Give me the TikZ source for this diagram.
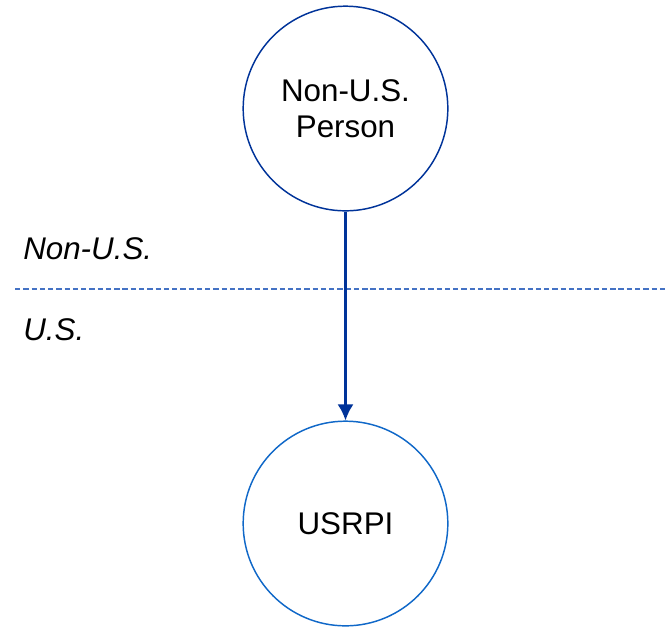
\documentclass[tikz,border=0pt]{standalone}
\usepackage{fontspec}
\setmainfont{Liberation Sans}
\usepackage{tikz}
\usetikzlibrary{arrows.meta}
\usetikzlibrary{shapes}
\definecolor{darkblue}{RGB}{0,51,153}
\definecolor{midblue}{RGB}{16,104,200}
\definecolor{lineblue}{RGB}{68,114,196}
\tikzset{>=latex}
\tikzstyle{party} = [circle, draw, line width=1.1pt, minimum size=153.5pt, inner sep=0pt, align=center, font=\fontsize{23.5}{27}\selectfont]
\tikzstyle{side} = [anchor=base west, inner sep=0pt, font=\fontsize{23.5}{27}\selectfont\itshape]

\begin{document}
\begin{tikzpicture}[x=0.75pt, y=-0.75pt]
\useasboundingbox (0,0) rectangle (666,626);
\node [party, draw=darkblue] (P) at (345.5,108.5) {Non-U.S.\\Person};
\node [party, draw=midblue] (R) at (345.5,523.5) {USRPI};
\node [side] (NU) at (23,259) {Non-U.S.};
\node [side] (US) at (23,340) {U.S.};
\coordinate (L) at (15,289);
\coordinate (E) at (666,289);
\draw [lineblue, line width=1.1pt, dash pattern=on 4pt off 2.2pt] (L) -- (E);
\draw [-{Latex[length=12pt,width=12pt]}, draw=darkblue, fill=darkblue, line width=1.6pt] (P) to (R);
\end{tikzpicture}
\end{document}
